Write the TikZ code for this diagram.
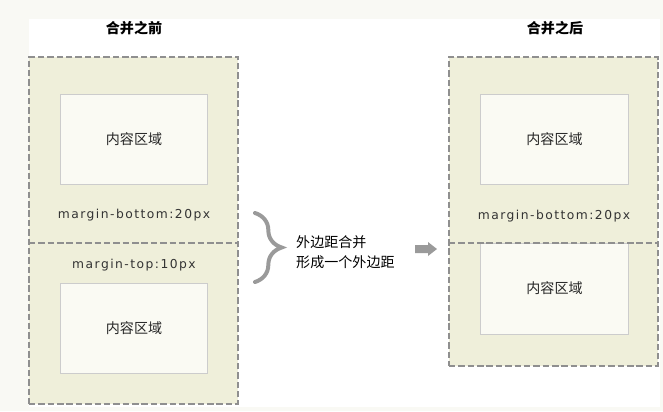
\documentclass[tikz,border=0pt]{standalone}
\usepackage{fontspec}
\setmainfont{DejaVu Sans}
\newfontfamily\cjk{Noto Sans CJK SC}
\usepackage{tikz}
\usetikzlibrary{
    arrows.meta,
    positioning,
    decorations.pathreplacing
}
\usepackage{xcolor}
\definecolor{pagebg}{HTML}{F9F9F4}
\definecolor{marginfill}{HTML}{EFEFDA}
\definecolor{contentfill}{HTML}{FAFAF3}
\definecolor{contentline}{HTML}{CCCCCC}
\definecolor{dashgray}{HTML}{8F8F8F}
\definecolor{textgray}{HTML}{333333}

\begin{document}
\begin{tikzpicture}[
        x=0.03cm,
        y=-0.03cm,
        marginbox/.style={
            rectangle,
            draw=dashgray,
            fill=marginfill,
            line width=0.9pt,
            dash pattern=on 5.5pt off 2.5pt,
            inner sep=0pt,
            minimum width=6.27cm
        },
        content/.style={
            rectangle,
            draw=contentline,
            fill=contentfill,
            line width=0.8pt,
            inner sep=0pt,
            minimum width=4.42cm,
            font=\cjk\fontsize{12}{14}\selectfont,
            text=black!85
        },
        marginlabel/.style={
            font=\fontsize{10.5}{12}\selectfont\addfontfeature{LetterSpace=12},
            text=textgray,
            inner sep=0pt
        },
        title/.style={
            font=\cjk\bfseries\fontsize{12}{14}\selectfont,
            inner sep=0pt
        },
        divider/.style={
            draw=dashgray,
            line width=0.9pt,
            dash pattern=on 5.5pt off 2.5pt
        }
    ]

    % page
    \fill[pagebg] (0,0) rectangle (663,411);
    \fill[white] (29,19) rectangle (660,407);

    % before merging
    \node[title] (titleBefore) at (134,28) {合并之前};
    \node[marginbox, minimum height=10.41cm] (before) at (133.5,230.5) {};
    \draw[divider] (29,243) -- (238,243);
    \node[content, minimum height=2.7cm] (contentA) at (134,139) {内容区域};
    \node[marginlabel] (bottomA) at (134,215) {margin-bottom:20px};
    \node[marginlabel] (topB) at (134,265) {margin-top:10px};
    \node[content, minimum height=2.7cm] (contentB) at (134,328) {内容区域};

    % brace, note and arrow
    \coordinate (braceTop) at (255,213);
    \coordinate (braceBot) at (255,282);
    \draw[dashgray!90, line width=3.4pt, line cap=round, decorate,
          decoration={brace, amplitude=0.8cm}] (braceTop) -- (braceBot);
    \node[anchor=west, align=left, inner sep=0pt,
          font=\cjk\fontsize{12}{17}\selectfont] (note) at (296,252)
          {外边距合并\\形成一个外边距};
    \coordinate (merge) at (415,249);
    \fill[dashgray!90] (merge) ++(0,-4) -- ++(13,0) -- ++(0,-3) -- ++(9,7)
        -- ++(-9,7) -- ++(0,-3) -- ++(-13,0) -- cycle;

    % after merging
    \node[title] (titleAfter) at (555,28) {合并之后};
    \node[marginbox, minimum height=9.27cm] (after) at (553.5,211.5) {};
    \node[content, minimum height=2.7cm] (contentC) at (554.5,139) {内容区域};
    \node[content, minimum height=2.73cm] (contentD) at (554.5,288.5) {内容区域};
    \draw[divider] (449,243) -- (658,243);
    \node[marginlabel] (bottomC) at (554,216) {margin-bottom:20px};

\end{tikzpicture}
\end{document}
